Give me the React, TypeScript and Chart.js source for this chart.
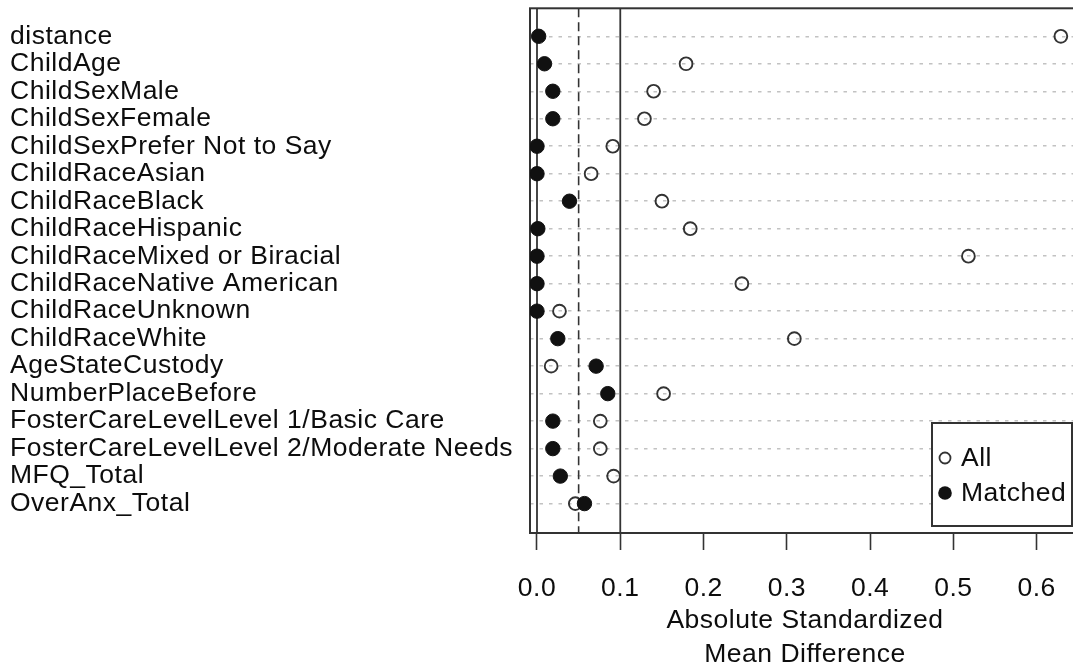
import React, { useEffect, useRef } from 'react';
import { Chart, registerables } from 'chart.js';

Chart.register(...registerables);

const covariates = [
  'distance',
  'ChildAge',
  'ChildSexMale',
  'ChildSexFemale',
  'ChildSexPrefer Not to Say',
  'ChildRaceAsian',
  'ChildRaceBlack',
  'ChildRaceHispanic',
  'ChildRaceMixed or Biracial',
  'ChildRaceNative American',
  'ChildRaceUnknown',
  'ChildRaceWhite',
  'AgeStateCustody',
  'NumberPlaceBefore',
  'FosterCareLevelLevel 1/Basic Care',
  'FosterCareLevelLevel 2/Moderate Needs',
  'MFQ_Total',
  'OverAnx_Total',
];

const allValues = [
  0.629, 0.179, 0.14, 0.129, 0.091, 0.065, 0.15, 0.184, 0.518, 0.246, 0.027, 0.309, 0.017, 0.152, 0.076,
  0.076, 0.092, 0.046,
];

const matchedValues = [
  0.002, 0.009, 0.019, 0.019, 0.0, 0.0, 0.039, 0.001, 0.0, 0.0, 0.0, 0.025, 0.071, 0.085, 0.019, 0.019,
  0.028, 0.057,
];

const xTickValues = [0, 0.1, 0.2, 0.3, 0.4, 0.5, 0.6];
const solidThresholds = [0, 0.1];
const dashedThresholds = [0.05];
const legendLabels = ['All', 'Matched'];
const xTitle = ['Absolute Standardized', 'Mean Difference'];

const X_MIN = -0.0084;
const X_MAX = 0.652;
const Y_MIN = -0.018;
const Y_MAX = 19.07;
const FONT = '"Liberation Sans", Arial, Helvetica, sans-serif';
const TEXT_SPACING = '0.5px';
const TEXT_COLOR = '#0d0d0d';
const LINE_COLOR = '#333333';

const spacingPlugin = {
  id: 'textSpacing',
  beforeLayout(chart: any) {
    chart.ctx.letterSpacing = TEXT_SPACING;
  },
  beforeDraw(chart: any) {
    chart.ctx.letterSpacing = TEXT_SPACING;
  },
};

const framePlugin = {
  id: 'frame',
  beforeDatasetsDraw(chart: any) {
    const { ctx, chartArea: a } = chart;
    ctx.save();
    ctx.strokeStyle = LINE_COLOR;
    ctx.lineWidth = 2;
    ctx.strokeRect(a.left, a.top, a.right - a.left, a.bottom - a.top);
    ctx.restore();
  },
};

const boxLegendPlugin = {
  id: 'boxLegend',
  afterDraw(chart: any) {
    const { ctx, chartArea: a } = chart;
    const right = a.right - 8;
    const bottom = a.bottom - 7;
    const width = 140;
    const height = 103;
    const left = right - width;
    const top = bottom - height;
    ctx.save();
    ctx.letterSpacing = TEXT_SPACING;
    ctx.fillStyle = '#ffffff';
    ctx.fillRect(left, top, width, height);
    ctx.strokeStyle = LINE_COLOR;
    ctx.lineWidth = 2;
    ctx.strokeRect(left, top, width, height);
    ctx.font = `26.5px ${FONT}`;
    ctx.textBaseline = 'middle';
    ctx.textAlign = 'left';
    legendLabels.forEach((label, i) => {
      const y = top + 35 + i * 35;
      const x = left + 13;
      ctx.beginPath();
      if (i === 0) {
        ctx.arc(x, y, 5.5, 0, Math.PI * 2);
        ctx.lineWidth = 1.8;
        ctx.strokeStyle = LINE_COLOR;
        ctx.stroke();
      } else {
        ctx.arc(x, y, 6.8, 0, Math.PI * 2);
        ctx.fillStyle = '#111111';
        ctx.fill();
      }
      ctx.fillStyle = TEXT_COLOR;
      ctx.fillText(label, left + 29, y + 1);
    });
    ctx.restore();
  },
};

export default function App() {
  const canvasRef = useRef<HTMLCanvasElement | null>(null);

  useEffect(() => {
    if (!canvasRef.current) return;
    const lineSets = [
      ...solidThresholds.map((v) => ({
        type: 'scatter' as const,
        label: `ref-${v}`,
        data: [
          { x: v, y: Y_MIN },
          { x: v, y: Y_MAX },
        ],
        showLine: true,
        borderColor: LINE_COLOR,
        borderWidth: 1.8,
        pointRadius: 0,
        order: 2,
      })),
      ...dashedThresholds.map((v) => ({
        type: 'scatter' as const,
        label: `ref-${v}`,
        data: [
          { x: v, y: Y_MIN },
          { x: v, y: Y_MAX },
        ],
        showLine: true,
        borderColor: LINE_COLOR,
        borderWidth: 1.6,
        borderDash: [9, 5],
        pointRadius: 0,
        order: 2,
      })),
    ];

    const chart = new Chart(canvasRef.current, {
      type: 'scatter',
      data: {
        datasets: [
          {
            label: legendLabels[1],
            data: matchedValues.map((v, i) => ({ x: v, y: i + 1 })),
            pointRadius: 7.2,
            pointBackgroundColor: '#111111',
            pointBorderColor: '#111111',
            pointBorderWidth: 1,
            order: 0,
          },
          {
            label: legendLabels[0],
            data: allValues.map((v, i) => ({ x: v, y: i + 1 })),
            pointRadius: 6.4,
            pointBackgroundColor: 'rgba(0,0,0,0)',
            pointBorderColor: LINE_COLOR,
            pointBorderWidth: 1.9,
            order: 1,
          },
          ...lineSets,
        ] as any,
      },
      options: {
        responsive: false,
        animation: false,
        devicePixelRatio: 1,
        events: [],
        layout: { padding: { left: 10, top: 8, right: 20, bottom: 0 } },
        plugins: {
          legend: { display: false },
          tooltip: { enabled: false },
        },
        scales: {
          x: {
            type: 'linear',
            min: X_MIN,
            max: X_MAX,
            afterBuildTicks: (s: any) => {
              s.ticks = xTickValues.map((v) => ({ value: v }));
            },
            afterFit: (s: any) => {
              s.height = 136;
              s.paddingLeft = 0;
              s.paddingRight = 0;
            },
            ticks: {
              callback: (v: any) => Number(v).toFixed(1),
              font: { size: 26.5, family: FONT },
              color: TEXT_COLOR,
              padding: 23,
              maxRotation: 0,
              autoSkip: false,
            },
            grid: {
              drawOnChartArea: false,
              drawTicks: true,
              tickLength: 17,
              tickWidth: 1.6,
              tickColor: LINE_COLOR,
              color: LINE_COLOR,
            },
            border: { display: true, color: LINE_COLOR, width: 2 },
            title: {
              display: true,
              text: xTitle,
              font: { size: 26.5, family: FONT, lineHeight: 1.3 },
              color: TEXT_COLOR,
              padding: { top: 0, bottom: -3 },
            },
          },
          y: {
            type: 'linear',
            reverse: true,
            min: Y_MIN,
            max: Y_MAX,
            afterBuildTicks: (s: any) => {
              s.ticks = covariates.map((_, i) => ({ value: i + 1 }));
            },
            afterFit: (s: any) => {
              s.width = 520;
              s.paddingTop = 0;
              s.paddingBottom = 0;
            },
            ticks: {
              callback: (v: any) => covariates[Math.round(Number(v)) - 1] ?? '',
              font: { size: 26.5, family: FONT },
              color: TEXT_COLOR,
              crossAlign: 'far',
              autoSkip: false,
              padding: 0,
            },
            grid: {
              color: '#c2c2c2',
              lineWidth: 1.5,
              drawTicks: false,
              tickLength: 0,
            },
            border: { display: false, dash: [3.5, 6] },
          },
        },
      },
      plugins: [spacingPlugin, framePlugin, boxLegendPlugin],
    } as any);

    return () => {
      chart.destroy();
    };
  }, []);

  return (
    <div
      style={{
        position: 'fixed',
        left: 0,
        top: 0,
        width: 1073,
        height: 669,
        overflow: 'hidden',
        background: '#ffffff',
      }}
    >
      <canvas ref={canvasRef} width={1100} height={669} style={{ display: 'block' }} />
    </div>
  );
}
